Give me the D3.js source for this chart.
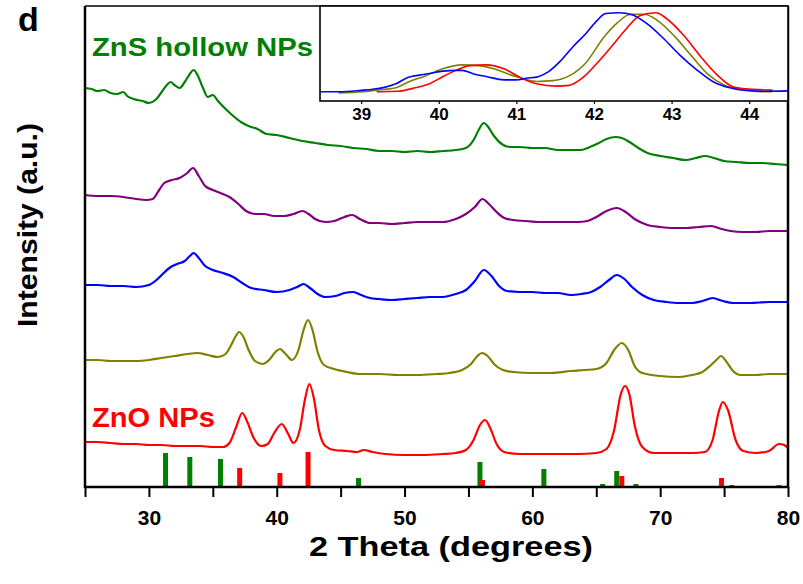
<!DOCTYPE html>
<html><head><meta charset="utf-8">
<script src="https://cdn.jsdelivr.net/npm/d3@7"></script>
<style>body{margin:0;background:#fff}text{font-family:"Liberation Sans",Arial,sans-serif}</style>
</head><body>
<svg id="c" width="803" height="584"></svg>
<script>
// ---- main XRD patterns: [2theta, intensity (a.u., stacked)] ----
const znsHollow = [[25,399],[25.5,398],[26,396],[26.5,397],[27,394],[27.5,393],[28,395],[28.3,391],[28.8,388],[29.5,386],[30,384],[30.5,387],[31,395],[31.4,402],[31.7,405],[32,402],[32.4,399],[32.8,405],[33.2,413],[33.5,417],[33.8,412],[34.2,400],[34.6,390],[35,392],[35.4,386],[36,378],[36.6,371],[37.2,365],[37.8,361],[38.5,358],[39.2,353],[40,352],[41,349],[42,346],[43,344],[44,342],[45,341],[46,339],[47,338],[48,336],[49,336],[50,335],[51,336],[52,335],[53,336],[54,337],[54.8,339],[55.4,347],[55.8,357],[56.2,364],[56.6,359],[57,351],[57.6,343],[58.2,340],[59,340],[60,339],[61,339],[62,337],[63,337],[63.8,337],[64.5,340],[65.2,344],[65.8,348],[66.5,350],[67,349],[67.6,345],[68.3,339],[69,334],[70,331],[71,329],[72,327],[72.8,329],[73.5,331],[74.2,329],[75,326],[76,325],[77,324],[78,324],[79,323],[80,322]];
const purple = [[25,292],[26,291],[27,291],[28,290],[29,288],[29.8,287],[30.3,288],[30.8,297],[31.2,304],[31.8,307],[32.4,309],[33,314],[33.45,319],[33.9,311],[34.4,301],[35,297],[35.6,294],[36.3,290],[37,283],[37.6,276],[38.3,273],[39,273],[39.8,271],[40.6,271],[41.3,273],[42,276],[42.5,273],[43,268],[43.8,265],[44.5,266],[45.3,270],[45.9,272],[46.5,268],[47.3,264],[48,264],[49,263],[50,264],[51,265],[52,265],[53,265],[54,268],[54.8,273],[55.5,280],[56.1,288],[56.6,283],[57.2,275],[57.8,269],[58.5,267],[59.5,266],[60.5,265],[61.5,265],[62.5,265],[63.5,265],[64.3,266],[65,270],[65.8,276],[66.6,279],[67.3,275],[68,268],[69,262],[70,260],[71,259],[72,259],[73,260],[74,261],[74.8,258],[75.5,256],[76.5,255],[77.5,255],[78.5,256],[80,256]];
const blue = [[25,202],[26,202],[27,201],[28,201],[29,200],[30,202],[30.5,206],[31,212],[31.6,219],[32.2,223],[32.8,226],[33.2,231],[33.5,234],[33.9,229],[34.4,221],[35,217],[35.8,214],[36.6,210],[37.3,204],[38,199],[39,197],[40,195],[41,197],[41.6,200],[42.1,203],[42.6,199],[43.2,193],[43.8,190],[44.6,191],[45.3,194],[46,195],[46.6,192],[47.3,189],[48,188],[49,187],[50,188],[51,189],[52,190],[53,190],[54,193],[54.8,197],[55.5,206],[56.2,217],[56.8,211],[57.4,201],[58,196],[59,195],[60,195],[61,194],[62,194],[63,192],[63.8,193],[64.6,195],[65.3,200],[66,207],[66.6,212],[67.2,208],[67.8,200],[68.6,192],[69.5,187],[70.5,185],[71.5,184],[72.5,184],[73.3,186],[74.1,189],[74.9,186],[75.7,184],[77,184],[78.5,185],[80,185]];
const olive = [[25,127],[26,127],[27,126],[28,126],[29,126],[30,127],[31,129],[32,131],[33,133],[33.8,134],[34.6,132],[35.4,130],[36,133],[36.4,141],[36.8,151],[37.05,155],[37.4,150],[37.8,137],[38.3,126],[38.9,123],[39.4,127],[39.9,135],[40.25,138],[40.7,133],[41.2,127],[41.7,137],[42.1,157],[42.45,167],[42.8,157],[43.2,135],[43.7,122],[44.5,118],[45.5,115],[46.5,113],[48,113],[49.5,112],[51,112],[52.5,113],[53.5,114],[54.5,117],[55.2,123],[55.7,131],[56.05,134],[56.5,131],[57,123],[57.7,117],[58.5,115],[60,114],[61.5,114],[63,116],[64,117],[65,118],[65.8,124],[66.4,137],[67,144],[67.5,137],[68,121],[68.6,114],[70,111],[71.5,110],[72.5,112],[73.3,115],[73.9,121],[74.4,127],[74.75,131],[75.2,125],[75.7,116],[76.3,112],[77.5,112],[78.5,113],[80,113]];
const znoNPs = [[25,45],[26,45],[27,44],[28,43],[29,43],[30,42],[31,42],[32,41],[33,41],[34,41],[35,40],[35.8,40],[36.3,44],[36.8,59],[37.3,74],[37.7,65],[38.2,49],[38.8,41],[39.3,43],[39.8,54],[40.4,63],[40.9,53],[41.3,44],[41.8,57],[42.2,87],[42.55,103],[42.9,89],[43.3,57],[43.8,41],[44.5,37],[45.5,36],[46.3,35],[46.8,37],[47.5,35],[48.5,33],[50,32],[51.5,32],[53,33],[54,34],[54.8,37],[55.4,47],[55.9,62],[56.3,67],[56.7,59],[57.2,43],[57.8,35],[59,33],[60.5,33],[62,33],[63.5,33],[65,34],[65.8,38],[66.4,57],[66.9,92],[67.25,101],[67.6,92],[68,62],[68.6,40],[69.5,34],[71,34],[72.5,34],[73.5,35],[74.1,47],[74.6,76],[74.9,85],[75.3,77],[75.9,47],[76.5,36],[77.5,34],[78.5,36],[79.3,43],[79.7,42],[80,39]];

// ---- reference bars: [2theta, relative intensity] ----
const greenRef = [[31.3,34],[33.2,30],[35.6,28],[46.4,9],[55.9,25],[60.9,18],[65.5,3],[66.6,16],[68.1,3],[70.0,1],[75.6,2],[78.7,1]];
const redRef = [[37.1,19],[40.25,14],[42.45,35],[56.1,7],[67.0,11],[74.8,9],[79.3,2]];

// ---- inset (38.5–44.5 deg), normalized intensity ----
const insetBlue = [[38.47,0],[38.71,0],[39.0,0.017],[39.15,0.03],[39.3,0.055],[39.45,0.1],[39.6,0.18],[39.75,0.21],[39.88,0.23],[40.05,0.26],[40.23,0.27],[40.3,0.27],[40.45,0.225],[40.62,0.19],[40.84,0.15],[41.0,0.15],[41.13,0.17],[41.28,0.19],[41.41,0.25],[41.56,0.38],[41.73,0.57],[41.9,0.74],[42.03,0.89],[42.15,0.99],[42.32,1.0],[42.5,0.97],[42.67,0.87],[42.89,0.68],[43.1,0.47],[43.32,0.28],[43.53,0.13],[43.75,0.05],[43.96,0.015],[44.18,0.005],[44.5,0.01]];
const insetOlive = [[38.71,-0.015],[39.03,0],[39.2,0.02],[39.45,0.05],[39.6,0.12],[39.83,0.2],[40.05,0.29],[40.3,0.34],[40.52,0.33],[40.74,0.28],[41.0,0.19],[41.26,0.13],[41.47,0.14],[41.68,0.2],[41.9,0.37],[42.12,0.68],[42.3,0.87],[42.47,0.98],[42.65,0.98],[42.82,0.9],[43.04,0.7],[43.26,0.45],[43.47,0.22],[43.69,0.08],[43.9,0.03],[44.15,0],[44.3,0]];
const insetRed = [[39.2,0],[39.47,0.005],[39.7,0.05],[39.88,0.1],[40.05,0.19],[40.22,0.27],[40.4,0.33],[40.62,0.34],[40.84,0.29],[41.05,0.18],[41.26,0.1],[41.52,0.07],[41.68,0.08],[41.86,0.18],[42.03,0.35],[42.25,0.6],[42.42,0.8],[42.59,0.96],[42.8,1.0],[42.93,0.93],[43.15,0.72],[43.37,0.45],[43.58,0.22],[43.8,0.06],[44.05,0.03],[44.3,0.02]];

const xTicks = [30,40,50,60,70,80];
const insetTicks = [39,40,41,42,43,44];

const svg = d3.select('#c');
const x = d3.scaleLinear().domain([25,80]).range([85,788]);
const y = d3.scaleLinear().domain([0,481]).range([487,6]);

const line = d3.line().x(d=>x(d[0])).y(d=>y(d[1])).curve(d3.curveMonotoneX);

// bars
svg.append('g').selectAll('rect').data(greenRef).join('rect')
  .attr('x',d=>x(d[0])-2.5).attr('width',5).attr('y',d=>y(d[1])).attr('height',d=>y(0)-y(d[1])).attr('fill','#008000');
svg.append('g').selectAll('rect').data(redRef).join('rect')
  .attr('x',d=>x(d[0])-2.5).attr('width',5).attr('y',d=>y(d[1])).attr('height',d=>y(0)-y(d[1])).attr('fill','#ff0000');

// curves
const series = [[znoNPs,'#ff0000'],[olive,'#808000'],[blue,'#0000ff'],[purple,'#800080'],[znsHollow,'#008000']];
series.forEach(([d,c])=>{
  svg.append('path').datum(d).attr('d',line).attr('fill','none').attr('stroke',c).attr('stroke-width',2.2).attr('stroke-linejoin','round');
});

// x axis
const xAxis = d3.axisBottom(x).tickValues(d3.range(25,81,5)).tickSize(10).tickPadding(13).tickFormat(d=>xTicks.includes(d)?d:'');
const gx = svg.append('g').attr('transform','translate(0,487)').call(xAxis);
gx.select('.domain').remove();
gx.selectAll('line').attr('stroke','#000').attr('stroke-width',2);
gx.selectAll('text').attr('font-size',21).attr('font-weight','bold').attr('fill','#000').attr('font-family','Liberation Sans, Arial, sans-serif');

// frame
svg.append('line').attr('x1',85).attr('x2',788).attr('y1',6).attr('y2',6).attr('stroke','#000').attr('stroke-width',1.5);
svg.append('line').attr('x1',788).attr('x2',788).attr('y1',6).attr('y2',488).attr('stroke','#000').attr('stroke-width',2.5);
svg.append('line').attr('x1',84).attr('x2',789).attr('y1',487).attr('y2',487).attr('stroke','#000').attr('stroke-width',2.5);
svg.append('line').attr('x1',85).attr('x2',85).attr('y1',6).attr('y2',488).attr('stroke','#000').attr('stroke-width',2.5);

// inset
const xi = d3.scaleLinear().domain([38.47,44.5]).range([320,788]);
const yi = d3.scaleLinear().domain([0,1]).range([91.7,12.7]);
const ig = svg.append('g');
ig.append('rect').attr('x',320).attr('y',6).attr('width',468).attr('height',95).attr('fill','#fff');
svg.append('clipPath').attr('id','ic').append('rect').attr('x',320).attr('y',6).attr('width',468).attr('height',95);
const iline = d3.line().x(d=>xi(d[0])).y(d=>yi(d[1])).curve(d3.curveMonotoneX);
[[insetOlive,'#808000'],[insetRed,'#ff0000'],[insetBlue,'#0000ff']].forEach(([d,c])=>{
  ig.append('path').datum(d).attr('d',iline).attr('fill','none').attr('stroke',c).attr('stroke-width',1.6).attr('clip-path','url(#ic)');
});
ig.append('rect').attr('x',320).attr('y',6).attr('width',468).attr('height',95).attr('fill','none').attr('stroke','#000').attr('stroke-width',1.6);
const ia = d3.axisBottom(xi).tickValues(insetTicks).tickSize(3).tickPadding(4).tickFormat(d3.format('d'));
const gi = ig.append('g').attr('transform','translate(0,101)').call(ia);
gi.select('.domain').remove();
gi.selectAll('line').attr('stroke','#000').attr('stroke-width',1.2);
gi.selectAll('text').attr('font-size',17).attr('font-weight','bold').attr('fill','#000').attr('font-family','Liberation Sans, Arial, sans-serif');

// labels
svg.append('text').attr('x',18).attr('y',31).attr('font-size',34).attr('font-weight','bold').text('d');
svg.append('text').attr('x',92).attr('y',56).attr('font-size',26).attr('font-weight','bold').attr('fill','#008000')
  .attr('textLength',221).attr('lengthAdjust','spacingAndGlyphs').text('ZnS hollow NPs');
svg.append('text').attr('x',92).attr('y',427).attr('font-size',27).attr('font-weight','bold').attr('fill','#ff0000')
  .attr('textLength',123).attr('lengthAdjust','spacingAndGlyphs').text('ZnO NPs');
svg.append('text').attr('transform','translate(37,225) rotate(-90)').attr('text-anchor','middle').attr('font-size',28).attr('font-weight','bold')
  .attr('textLength',204).attr('lengthAdjust','spacingAndGlyphs').text('Intensity (a.u.)');
svg.append('text').attr('x',451).attr('y',556).attr('text-anchor','middle').attr('font-size',27).attr('font-weight','bold')
  .attr('textLength',284).attr('lengthAdjust','spacingAndGlyphs').text('2 Theta (degrees)');
</script>
</body></html>
